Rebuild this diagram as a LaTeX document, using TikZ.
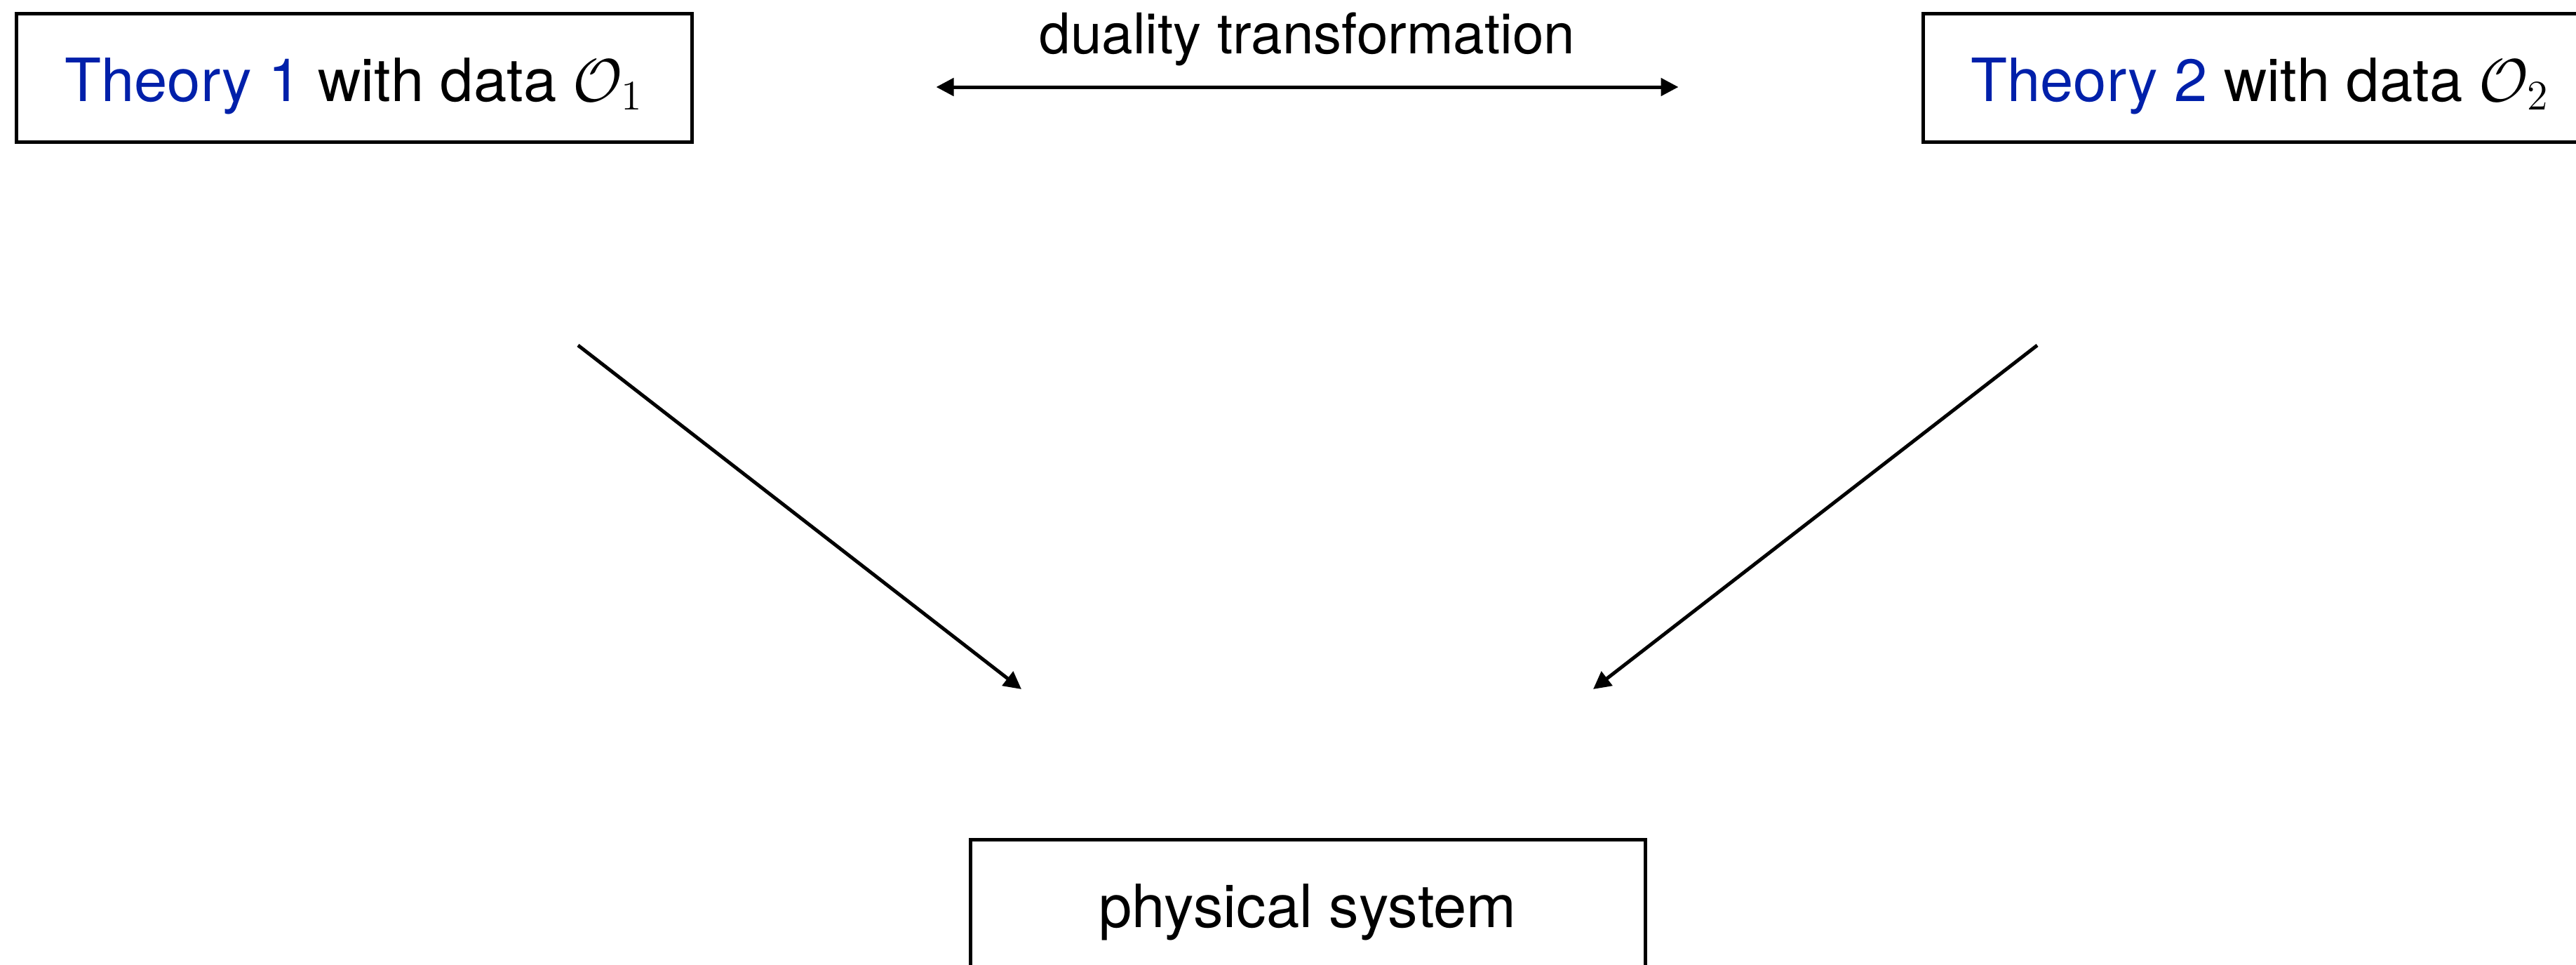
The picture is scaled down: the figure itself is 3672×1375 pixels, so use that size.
\documentclass[tikz,border=0pt]{standalone}
\usepackage[no-math]{fontspec}
\setmainfont{TeX Gyre Heros}
\usetikzlibrary{arrows.meta,calc}
\definecolor{tblue}{RGB}{0,32,170}
\begin{document}
\begin{tikzpicture}[x=0.2pt,y=-0.2pt,
  box/.style={draw, line width=1pt, minimum width=192.4pt, minimum height=36.6pt,
    inner sep=0pt, text height=13.2pt, text depth=0pt,
    font=\fontsize{17pt}{20pt}\selectfont},
  tip/.tip={Triangle[length=5pt,width=5pt]},
  conn/.style={line width=1pt, -tip}]
\useasboundingbox (0,0) rectangle (3672,1375);
\node[box] (t1) at (505,111) {{\color{tblue}Theory 1} with data $\mathcal{O}_1$};
\node[box] (t2) at (3222,111) {{\color{tblue}Theory 2} with data $\mathcal{O}_2$};
\node[box] (ps) at (1864,1288) {physical system};
\draw[line width=1pt, tip-tip, shorten <=69.2pt, shorten >=69.2pt]
  ([yshift=-2.6pt]t1.east) --
  node[midway, anchor=base, yshift=9.6pt, font=\fontsize{16pt}{19pt}\selectfont] (dl) {duality transformation}
  ([yshift=-2.6pt]t2.west);
\draw[conn] ($(t1.south)+(319,287)$) -- ($(ps.north)+(-408,-212)$);
\draw[conn] ($(t2.south)+(-318,287)$) -- ($(ps.north)+(407,-212)$);
\end{tikzpicture}
\end{document}
